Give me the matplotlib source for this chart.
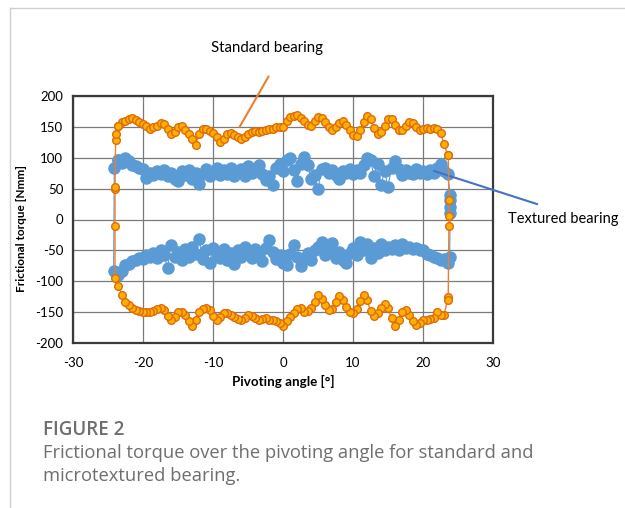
import matplotlib
matplotlib.use("Agg")
import matplotlib.pyplot as plt
from matplotlib.lines import Line2D
import numpy as np

plt.rcParams["axes.unicode_minus"] = False

# ---------------- data ----------------
angle_grid = [-23.5, -23.0, -22.5, -22.0, -21.5, -21.0, -20.5, -20.0, -19.5, -19.0,
              -18.5, -18.0, -17.5, -17.0, -16.5, -16.0, -15.5, -15.0, -14.5, -14.0,
              -13.5, -13.0, -12.5, -12.0, -11.5, -11.0, -10.5, -10.0, -9.5, -9.0,
              -8.5, -8.0, -7.5, -7.0, -6.5, -6.0, -5.5, -5.0, -4.5, -4.0,
              -3.5, -3.0, -2.5, -2.0, -1.5, -1.0, -0.5, 0.0, 0.5, 1.0,
              1.5, 2.0, 2.5, 3.0, 3.5, 4.0, 4.5, 5.0, 5.5, 6.0,
              6.5, 7.0, 7.5, 8.0, 8.5, 9.0, 9.5, 10.0, 10.5, 11.0,
              11.5, 12.0, 12.5, 13.0, 13.5, 14.0, 14.5, 15.0, 15.5, 16.0,
              16.5, 17.0, 17.5, 18.0, 18.5, 19.0, 19.5, 20.0, 20.5, 21.0,
              21.5, 22.0, 22.5, 23.0, 23.5]

standard_upper = [152, 158, 160, 162, 164, 161, 158, 155, 151, 147,
                  149, 152, 156, 155, 147, 138, 142, 150, 151, 145,
                  138, 130, 120, 138, 146, 147, 143, 140, 133, 125,
                  131, 139, 140, 137, 134, 130, 134, 138, 141, 143,
                  142, 144, 145, 146, 147, 150, 149, 150, 160, 166,
                  167, 169, 165, 160, 153, 152, 160, 166, 165, 158,
                  150, 145, 150, 157, 160, 153, 145, 137, 136, 145,
                  158, 168, 162, 148, 138, 141, 152, 162, 163, 153,
                  145, 145, 152, 158, 157, 150, 145, 147, 148, 147,
                  148, 146, 140, 122, 105]

standard_lower = [-108, -122, -133, -138, -143, -146, -148, -149, -149, -149,
                  -148, -145, -143, -147, -157, -163, -158, -150, -150, -155,
                  -165, -173, -162, -150, -145, -144, -147, -157, -163, -158,
                  -152, -151, -154, -158, -161, -162, -159, -155, -156, -160,
                  -162, -161, -160, -162, -163, -165, -168, -172, -165, -158,
                  -152, -145, -144, -150, -148, -143, -133, -123, -128, -138,
                  -146, -145, -133, -124, -130, -142, -150, -151, -145, -132,
                  -122, -130, -148, -156, -152, -143, -137, -143, -160, -172,
                  -162, -150, -147, -155, -165, -171, -167, -163, -162, -161,
                  -159, -150, -155, -155, -130]

standard_right_x = [23.6, 23.7, 23.7, 23.7, 23.6]
standard_right_y = [104, 32, 5, -11, -125]
standard_left_x = [-24.0, -24.0, -24.0, -24.0, -23.9, -23.9]
standard_left_y = [-95, -10, 50, 52, 128, 138]

textured_upper = [96, 92, 99, 94, 88, 86, 84, 82, 68, 76,
                  72, 78, 74, 80, 70, 76, 66, 62, 78, 72,
                  80, 66, 76, 57, 74, 82, 70, 78, 84, 72,
                  80, 74, 84, 70, 78, 82, 70, 86, 76, 80,
                  88, 74, 64, 70, 56, 84, 90, 78, 96, 100,
                  80, 62, 90, 102, 88, 66, 72, 49, 82, 84,
                  76, 80, 72, 66, 78, 76, 82, 74, 80, 76,
                  88, 100, 96, 70, 90, 56, 78, 53, 84, 94,
                  82, 72, 80, 76, 74, 82, 76, 78, 74, 80,
                  76, 84, 90, 78, 74]

textured_lower = [-90, -84, -74, -72, -68, -66, -62, -64, -58, -60,
                  -54, -62, -50, -58, -78, -42, -60, -52, -66, -48,
                  -60, -44, -56, -32, -64, -50, -70, -46, -58, -62,
                  -48, -66, -54, -72, -50, -60, -44, -56, -62, -48,
                  -58, -68, -46, -34, -52, -64, -58, -70, -74, -56,
                  -42, -60, -76, -62, -54, -66, -50, -44, -36, -58,
                  -48, -38, -62, -52, -66, -70, -54, -46, -58, -36,
                  -50, -40, -62, -46, -54, -40, -50, -44, -48, -42,
                  -50, -40, -46, -44, -48, -46, -50, -50, -56, -58,
                  -60, -62, -66, -64, -70]

textured_right_x = [23.9, 23.9, 23.9, 23.9, 23.8]
textured_right_y = [40, 32, 21, 11, -60]
textured_left_x = [-24.2, -24.1]
textured_left_y = [-84, 83]

x_ticks = [-30, -20, -10, 0, 10, 20, 30]
y_ticks = [-200, -150, -100, -50, 0, 50, 100, 150, 200]

# ---------------- build closed loops ----------------
def loop(upper, lower, rx, ry, lx, ly):
    xs = list(angle_grid) + list(rx) + list(angle_grid[::-1]) + list(lx) + [angle_grid[0]]
    ys = list(upper) + list(ry) + list(lower[::-1]) + list(ly) + [upper[0]]
    return xs, ys

sx, sy = loop(standard_upper, standard_lower, standard_right_x, standard_right_y,
              standard_left_x, standard_left_y)
tx, ty = loop(textured_upper, textured_lower, textured_right_x, textured_right_y,
              textured_left_x, textured_left_y)

W, H = 625, 508
fig = plt.figure(figsize=(W / 100, H / 100), dpi=100)
fig.patch.set_facecolor("white")

# outer frame of the figure panel (open to right / bottom)
fig.add_artist(Line2D([10 / W, 10 / W], [0, 1 - 8 / H], color="#cfcfcf", lw=1.0))
fig.add_artist(Line2D([10 / W, 1], [1 - 8 / H, 1 - 8 / H], color="#cfcfcf", lw=1.0))

ax = fig.add_axes([73 / W, 1 - 343 / H, 420 / W, 247 / H])

tick_font = "Lato"
ax.plot(tx, ty, color="#5b9bd5", lw=0.8, marker="o", ms=8,
        mfc="#5b9bd5", mec="#5b9bd5", zorder=3)
ax.plot(sx, sy, color="#ed7d31", lw=1.0, marker="o", ms=5.5,
        mfc="#ffb000", mec="#e06a0a", mew=1.0, zorder=4)

ax.set_xlim(-30, 30)
ax.set_ylim(-200, 200)
ax.set_xticks(x_ticks)
ax.set_yticks(y_ticks)
ax.grid(True, color="#7a7a7a", lw=0.9)
ax.set_axisbelow(True)
for s in ax.spines.values():
    s.set_color("#3a3a3a")
    s.set_linewidth(1.6)
ax.tick_params(axis="x", length=0, labelsize=9.5, pad=10, colors="#000000")
ax.tick_params(axis="y", length=0, labelsize=9.5, pad=7, colors="#000000")
for lab in ax.get_xticklabels() + ax.get_yticklabels():
    lab.set_fontfamily(tick_font)

# annotations (lines without heads)
ax.annotate("", xy=(-6.4, 146), xytext=(-1.86, 235.6), annotation_clip=False,
            arrowprops=dict(arrowstyle="-", color="#ed7d31", lw=1.5))
ax.annotate("", xy=(21.2, 80), xytext=(36.7, 23.5), annotation_clip=False,
            arrowprops=dict(arrowstyle="-", color="#4472c4", lw=1.5))

fig.text(267 / W, 1 - 48 / H, "Standard bearing", ha="center", va="center",
         fontsize=10.8, family=tick_font)
fig.text(508 / W, 1 - 219 / H, "Textured bearing", ha="left", va="center",
         fontsize=10.5, family=tick_font)

fig.text(22 / W, 1 - 228 / H, "Frictional torque [Nmm]", rotation=90,
         ha="center", va="center", fontsize=8.5, fontweight="bold", family=tick_font)
fig.text(283 / W, 1 - 381 / H, "Pivoting angle [°]", ha="center", va="center",
         fontsize=9.6, fontweight="bold", family=tick_font)

cap_color = "#6e6e6e"
fig.text(43 / W, 1 - 430 / H, "FIGURE 2", ha="left", va="center",
         fontsize=13.5, color=cap_color, family="Open Sans", fontweight=600)
fig.text(43 / W, 1 - 453 / H, "Frictional torque over the pivoting angle for standard and",
         ha="left", va="center", fontsize=13.2, color=cap_color, family="Open Sans")
fig.text(43 / W, 1 - 476 / H, "microtextured bearing.",
         ha="left", va="center", fontsize=13.2, color=cap_color, family="Open Sans")

fig.savefig("out.png", dpi=100, facecolor="white")
